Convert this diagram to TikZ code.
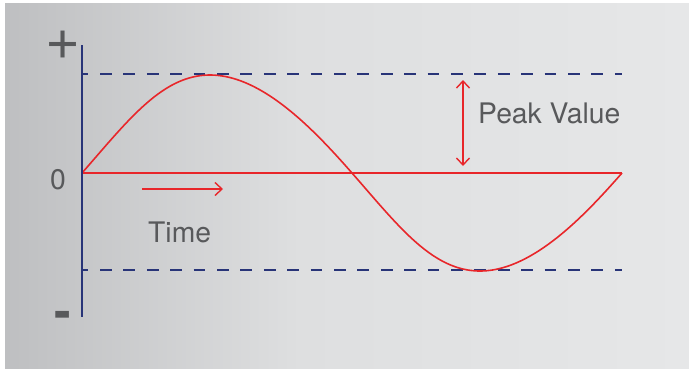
\documentclass[tikz,border=0pt]{standalone}
\usepackage{fontspec}
\setmainfont{TeX Gyre Heros}
\usetikzlibrary{arrows.meta}
\definecolor{axisblue}{RGB}{40,52,120}
\definecolor{wavered}{RGB}{232,38,42}
\definecolor{labelgray}{RGB}{88,89,91}
\definecolor{bgleft}{RGB}{190,191,193}
\definecolor{bgmid}{RGB}{222,223,224}
\definecolor{bgright}{RGB}{230,231,232}
\tikzset{
  axisline/.style={draw=axisblue, line width=2pt},
  guideline/.style={draw=axisblue, line width=1.5pt, dash pattern=on 11.7pt off 11.7pt, dash phase=5.4pt},
  waveline/.style={draw=wavered, line width=1.6pt},
  arrowline/.style={draw=wavered, line width=1.4pt},
  label/.style={text=labelgray, font=\fontsize{28.3}{31}\selectfont, inner sep=0pt},
  signlabel/.style={text=labelgray, font=\fontsize{50}{52}\selectfont\bfseries, inner sep=0pt},
}
\begin{document}
\begin{tikzpicture}[x=1pt, y=-1pt]
  \useasboundingbox (0,0) rectangle (689,368);
  % backdrop
  \fill[white] (0,0) rectangle (689,368);
  \shade[left color=bgleft, right color=bgmid] (5,3) rectangle (300.5,368);
  \shade[left color=bgmid, right color=bgright] (300,3) rectangle (689,368);

  % reference points
  \coordinate (axtop) at (82,45);
  \coordinate (axbot) at (82,317);
  \coordinate (origin) at (82,173);
  \coordinate (zeroend) at (622,173);
  \coordinate (peakL) at (82,74);
  \coordinate (peakR) at (622,74);
  \coordinate (troughL) at (82,270);
  \coordinate (troughR) at (622,270);
  \coordinate (pvtop) at (463,80);
  \coordinate (pvbot) at (463,166);
  \coordinate (tstart) at (142,189);
  \coordinate (tend) at (223,189);

  % peak guides
  \draw[guideline] (peakL) -- (peakR);
  \draw[guideline] (troughL) -- (troughR);

  % zero line and one period of the wave (crests pulled slightly to the left)
  \draw[waveline] (origin) -- (zeroend);
  \draw[waveline, domain=0:360, samples=240, smooth, variable=\t]
    plot ({82+1.5*\t-3.5*(1-cos(2*\t))}, {173-98*sin(\t)});

  % vertical axis
  \draw[axisline] (axtop) -- (axbot);

  % arrows
  \draw[arrowline, {Straight Barb[length=7pt, width=13pt]}-{Straight Barb[length=7pt, width=13pt]}] (pvtop) -- (pvbot);
  \draw[arrowline, -{Straight Barb[length=7pt, width=13pt]}] (tstart) -- (tend);

  % labels
  \node[signlabel, font=\fontsize{60}{62}\selectfont] (plus) at (63.5,45) {+};
  \node[signlabel] (minus) at (63,319.5) {-};
  \node[label] (zero) at (58,179.5) {0};
  \node[label, anchor=west] (time) at (148,232) {Time};
  \node[label, anchor=west] (peak) at (478,113) {Peak Value};
\end{tikzpicture}
\end{document}
